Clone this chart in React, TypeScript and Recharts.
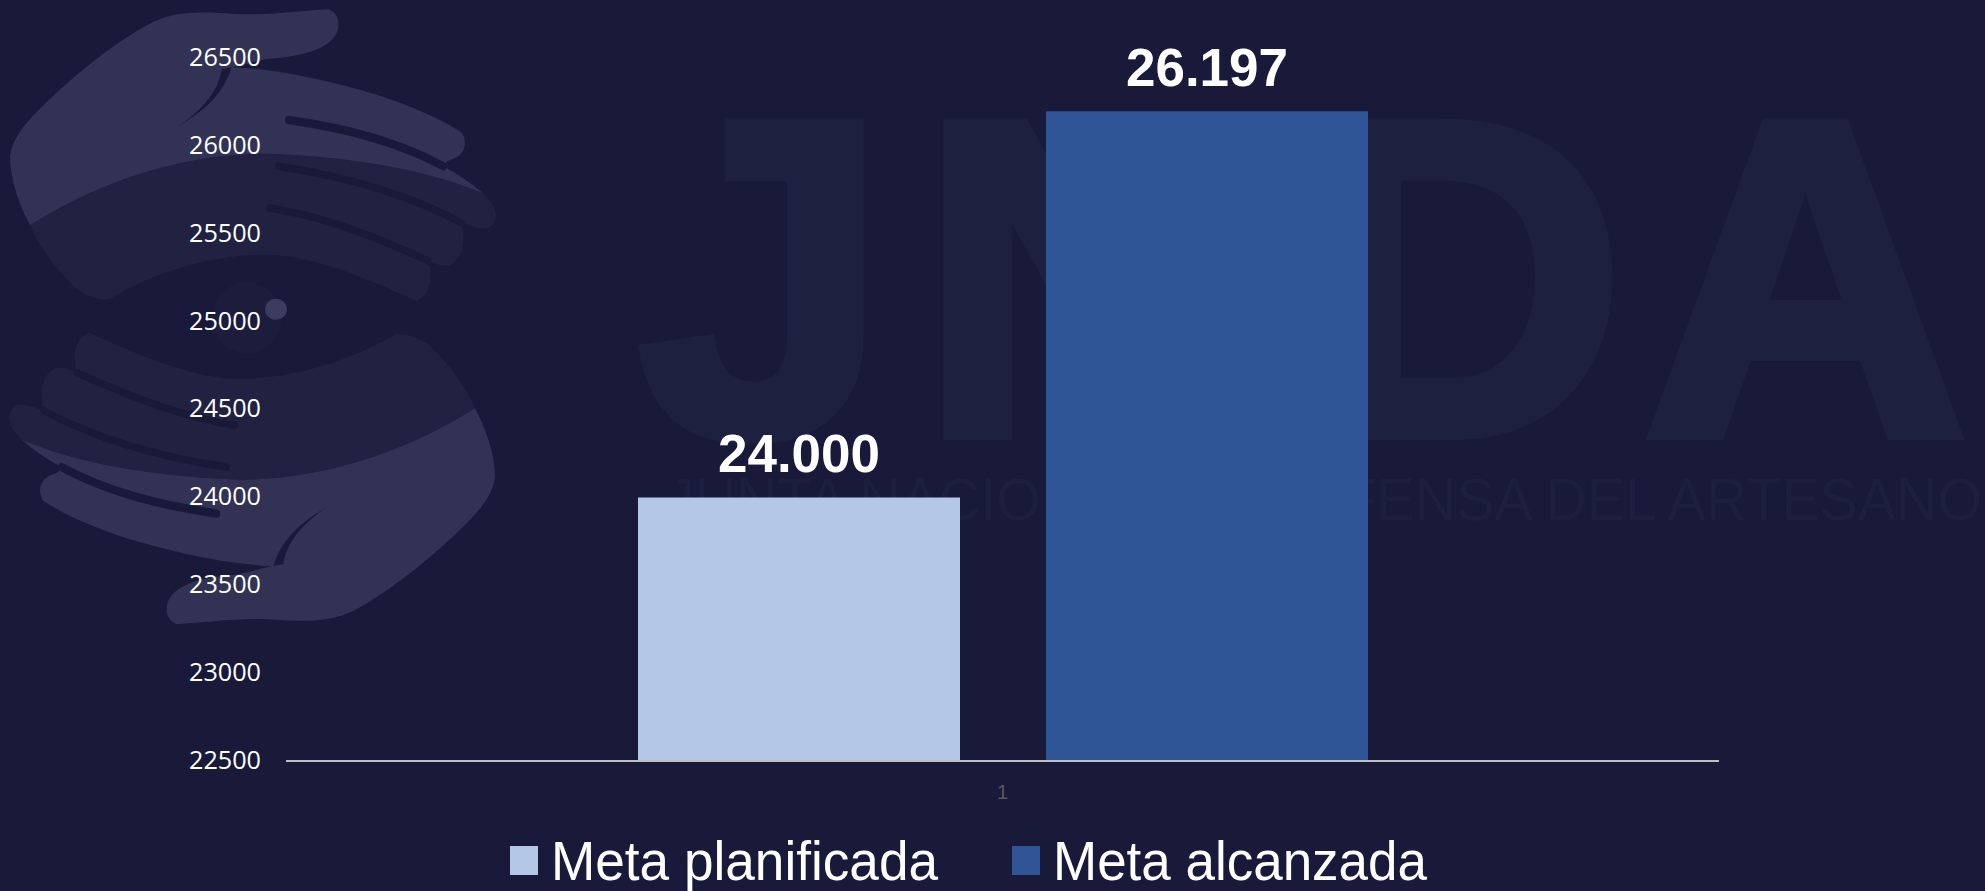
import React from 'react';
import { BarChart, Bar, XAxis, YAxis, Legend, LabelList } from 'recharts';

const categories = ['1'];
const plannedValues = [24000];
const achievedValues = [26197];
const yTicks = [22500, 23000, 23500, 24000, 24500, 25000, 25500, 26000, 26500];
const seriesNames = ['Meta planificada', 'Meta alcanzada'];
const rows = categories.map((c, i) => ({ cat: c, planned: plannedValues[i], achieved: achievedValues[i] }));

const BG = '#191a3a';
const fmt = (v: number) => v.toLocaleString('de-DE');

const handBright =
  'M90,535 C60,490 30,430 30,370 C40,320 90,280 150,235 C250,160 350,100 440,60 C520,25 600,28 700,33 C800,38 900,25 985,22 C1015,30 1025,60 1005,85 C975,120 900,135 800,140 L700,160 C850,165 1000,195 1130,225 C1230,250 1330,285 1385,315 C1405,340 1395,370 1350,380 C1340,382 1335,390 1330,395 Q1400,425 1450,460 C1300,410 1100,375 800,365 C550,365 300,430 90,535 Z';
const handDim =
  'M90,535 C300,430 550,365 800,365 C1100,375 1300,410 1450,460 C1490,490 1500,520 1470,540 C1440,550 1410,535 1385,530 C1395,570 1395,610 1350,630 C1330,635 1300,625 1285,620 C1300,660 1290,700 1250,715 C1150,680 950,605 800,605 C650,605 480,640 330,710 C290,715 250,700 220,680 C170,640 120,590 90,535 Z';

function Hand() {
  return (
    <g>
      <path d={handDim} fill="#212241" />
      <path d={handBright} fill="#323354" />
      <path d="M535,300 C610,265 670,225 695,160 L665,165 C655,220 600,265 535,300 Z" fill={BG} />
      <path d="M865,285 C1000,300 1180,330 1330,395" fill="none" stroke={BG} strokeWidth={20} strokeLinecap="round" />
      <path d="M835,395 C1000,415 1200,450 1385,530" fill="none" stroke={BG} strokeWidth={18} strokeLinecap="round" />
      <path d="M810,495 C950,510 1120,560 1285,620" fill="none" stroke={BG} strokeWidth={18} strokeLinecap="round" />
    </g>
  );
}

function Watermark() {
  return (
    <svg width={1985} height={891} style={{ position: 'absolute', left: 0, top: 0 }}>
      <rect width={1985} height={891} fill={BG} />
      <g transform={`scale(${1 / 3},${1 / 2.376})`}>
        <Hand />
        <g transform="translate(1515,1505) scale(-1,-1)">
          <Hand />
        </g>
        <ellipse cx={740} cy={755} rx={105} ry={85} fill="#1c1d3d" />
        <ellipse cx={828} cy={735} rx={33} ry={25} fill="#3b3c5e" />
      </g>
      <g fill="#1e2040" stroke="#1e2040" strokeWidth={12} fontFamily="Liberation Sans" fontWeight={700}>
        <text x={638} y={434} fontSize={450}>J</text>
        <text x={919} y={434} fontSize={450}>N</text>
        <text x={1300} y={434} fontSize={450}>D</text>
        <text x={1643} y={434} fontSize={450}>A</text>
      </g>
      <text
        x={666}
        y={520}
        fontSize={60}
        fill="#1d1f3f"
        fontFamily="Liberation Sans"
        textLength={1316}
        lengthAdjust="spacingAndGlyphs"
      >
        JUNTA NACIONAL DE DEFENSA DEL ARTESANO
      </text>
    </svg>
  );
}

const swatchX = [510, 1012];
const textX = [551, 1053];
const textW = [387, 374];

function LegendContent({ payload }: any) {
  return (
    <svg width={1985} height={891} style={{ position: 'absolute', left: 0, top: 0, overflow: 'visible' }}>
      {(payload || []).map((p: any, i: number) => (
        <g key={p.value}>
          <rect x={swatchX[i]} y={846} width={28} height={29} fill={p.color} />
          <text
            x={textX[i]}
            y={880}
            fontSize={56}
            fill="#ffffff"
            fontFamily="Liberation Sans"
            textLength={textW[i]}
            lengthAdjust="spacingAndGlyphs"
          >
            {p.value}
          </text>
        </g>
      ))}
    </svg>
  );
}

export default function App() {
  return (
    <div style={{ position: 'relative', width: 1985, height: 891, overflow: 'hidden' }}>
      <style>{`html,body{margin:0;padding:0;background:${BG};overflow:hidden}`}</style>
      <Watermark />
      <div style={{ position: 'absolute', left: 0, top: 0 }}>
        <BarChart
          width={1985}
          height={891}
          data={rows}
          margin={{ top: 58, right: 266, bottom: 90, left: 211 }}
          barSize={322}
          barGap={86}
        >
          <XAxis
            dataKey="cat"
            height={40}
            tickLine={false}
            axisLine={{ stroke: '#bfbfbf', strokeWidth: 2 }}
            tick={{ fill: '#595959', fontSize: 20, fontFamily: 'Liberation Sans' }}
            tickMargin={18}
          />
          <YAxis
            width={75}
            domain={[22500, 26500]}
            ticks={yTicks}
            interval={0}
            tickLine={false}
            axisLine={false}
            tick={{ fill: '#ffffff', fontSize: 25.2, fontFamily: 'Open Sans', dy: -1 }}
            tickMargin={19}
          />
          <Legend
            itemSorter={null}
            content={<LegendContent />}
            wrapperStyle={{ position: 'absolute', left: 0, top: 0, width: 0, height: 0 }}
          />
          <Bar dataKey="planned" name={seriesNames[0]} fill="#b4c7e7" isAnimationActive={false}>
            <LabelList
              dataKey="planned"
              position="top"
              offset={25}
              formatter={fmt}
              fill="#ffffff"
              fontSize={53}
              fontWeight={700}
              fontFamily="Liberation Sans"
            />
          </Bar>
          <Bar dataKey="achieved" name={seriesNames[1]} fill="#2f5597" isAnimationActive={false}>
            <LabelList
              dataKey="achieved"
              position="top"
              offset={25}
              formatter={fmt}
              fill="#ffffff"
              fontSize={53}
              fontWeight={700}
              fontFamily="Liberation Sans"
            />
          </Bar>
        </BarChart>
      </div>
    </div>
  );
}
